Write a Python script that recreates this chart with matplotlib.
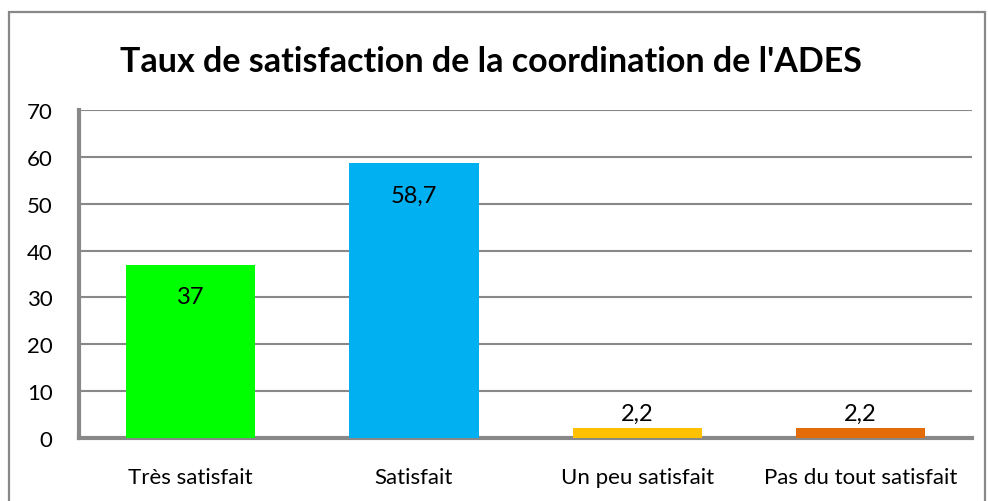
import matplotlib.pyplot as plt
from matplotlib.patches import Rectangle
import numpy as np

categories = ['Très satisfait', 'Satisfait', 'Un peu satisfait', 'Pas du tout satisfait']
values = [37, 58.7, 2.2, 2.2]
labels = ['37', '58,7', '2,2', '2,2']
colors = ['#00FF00', '#00B0F0', '#FFC000', '#E36C09']

plt.rcParams['font.family'] = ['Lato', 'DejaVu Sans']

fig = plt.figure(figsize=(9.88, 5.02), dpi=100)
ax = fig.add_axes([0.080, 0.1255, 0.904, 0.6535])

# outer chart border
fig.patches.append(Rectangle((9 / 988, -0.05), 976 / 988, 1.05 - 13 / 502,
                             transform=fig.transFigure, fill=False,
                             edgecolor='#888888', linewidth=1.6))

index = np.arange(len(categories))
bars = ax.bar(index, values, 0.58, color=colors, zorder=3)

for i, v in enumerate(values):
    if v > 10:
        ax.text(i, v - 8.3, labels[i], ha='center', va='baseline', fontsize=17, zorder=4)
    else:
        ax.text(i, v + 1.7, labels[i], ha='center', va='baseline', fontsize=17, zorder=4)

ax.set_xlim(-0.5, 3.5)
ax.set_ylim(0, 70)
ax.set_yticks(range(0, 71, 10))
ax.set_xticks(index)
ax.set_xticklabels(categories, fontsize=16)
ax.tick_params(axis='y', labelsize=16, length=0, pad=19)
ax.tick_params(axis='x', length=0, pad=21)
ax.yaxis.grid(True, color='#888888', linewidth=1.5, zorder=0)
ax.set_axisbelow(True)

for s in ['top', 'right']:
    ax.spines[s].set_visible(False)
for s in ['left', 'bottom']:
    ax.spines[s].set_color('#888888')
    ax.spines[s].set_linewidth(3)

fig.text(0.497, 1 - 72 / 502, "Taux de satisfaction de la coordination de l'ADES",
         ha='center', va='baseline', fontsize=24.5, fontweight='bold')

fig.savefig('out.png', dpi=100)
